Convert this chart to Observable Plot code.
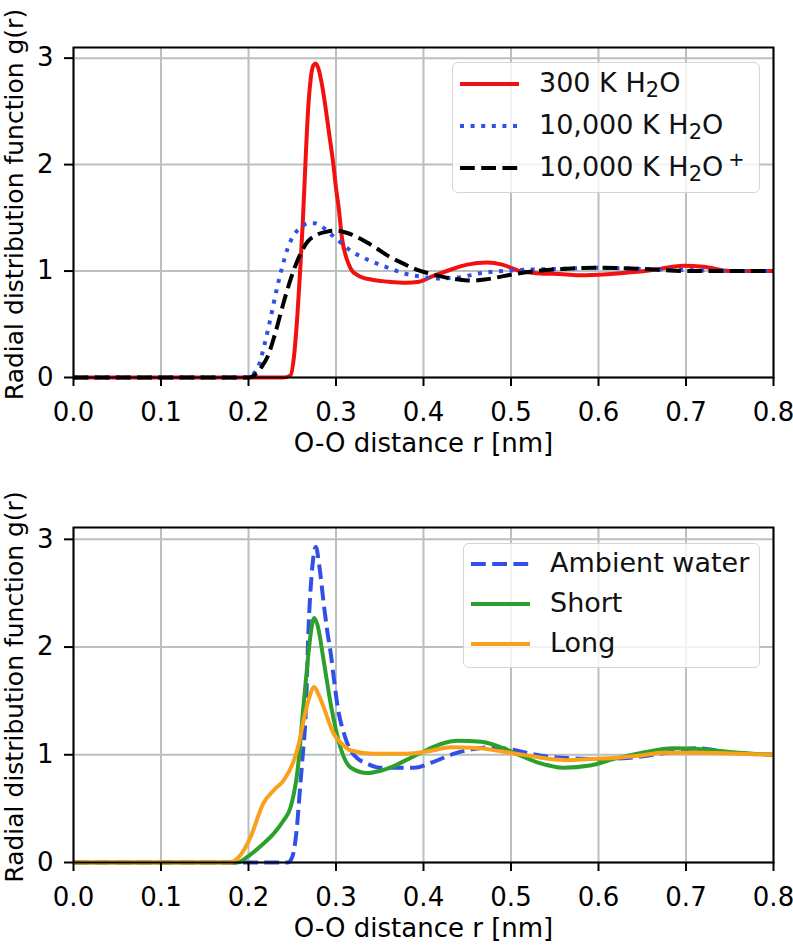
<!DOCTYPE html>
<html>
<head>
<meta charset="utf-8">
<script src="https://cdn.jsdelivr.net/npm/d3@7"></script>
<script src="https://cdn.jsdelivr.net/npm/@observablehq/plot@0.6"></script>
<style>
  html, body { margin: 0; padding: 0; background: white; overflow: hidden; }
  #wrap { position: relative; width: 793px; height: 946px; font-family: "DejaVu Sans", sans-serif; }
  #wrap svg { display: block; }
  .legend { position: absolute; background: rgba(255,255,255,0.8); border: 1.5px solid #d4d4d4; border-radius: 6px; box-sizing: border-box; }
  .row { position: absolute; left: 0; height: 0; }
  .row svg { position: absolute; left: 7px; top: -5px; overflow: visible; }
  .row span { position: absolute; left: 86px; top: 0; transform: translateY(-55%); font-size: 27px; white-space: nowrap; color: #111; }
  sub { font-size: 0.78em; vertical-align: -0.22em; line-height: 0; }
  sup { font-size: 0.72em; vertical-align: 0.5em; line-height: 0; margin-left: 5px; }
</style>
</head>
<body>
<div id="wrap"></div>
<script>
// ---------- data ----------
const xTicks = [0, 0.1, 0.2, 0.3, 0.4, 0.5, 0.6, 0.7, 0.8];
const yTicks = [0, 1, 2, 3];
const xLabel = "O-O distance r [nm]";
const yLabel = "Radial distribution function g(r)";

// Top panel
const r300 = [0, 0.24, 0.248, 0.252, 0.256, 0.259, 0.262, 0.265, 0.268, 0.271, 0.274, 0.277, 0.280, 0.284, 0.288, 0.292, 0.297, 0.300, 0.303, 0.307, 0.312, 0.317, 0.325, 0.34, 0.36, 0.38, 0.395, 0.41, 0.43, 0.45, 0.473, 0.49, 0.51, 0.53, 0.56, 0.58, 0.61, 0.64, 0.67, 0.697, 0.72, 0.75, 0.8];
const g300 = [0, 0, 0.02, 0.2, 0.6, 1.0, 1.45, 2.0, 2.5, 2.8, 2.93, 2.95, 2.9, 2.75, 2.54, 2.3, 2.0, 1.78, 1.6, 1.3, 1.12, 1.02, 0.96, 0.92, 0.9, 0.89, 0.9, 0.95, 1.01, 1.06, 1.08, 1.06, 1.0, 0.98, 0.97, 0.96, 0.97, 0.99, 1.02, 1.05, 1.04, 1.0, 1.0];

const r10k = [0, 0.195, 0.205, 0.212, 0.218, 0.225, 0.232, 0.238, 0.245, 0.252, 0.26, 0.268, 0.275, 0.285, 0.295, 0.305, 0.317, 0.33, 0.347, 0.36, 0.377, 0.395, 0.415, 0.44, 0.465, 0.49, 0.51, 0.55, 0.6, 0.65, 0.7, 0.75, 0.8];
const g10k = [0, 0, 0.03, 0.12, 0.3, 0.55, 0.82, 1.02, 1.22, 1.34, 1.41, 1.45, 1.45, 1.41, 1.34, 1.27, 1.19, 1.13, 1.07, 1.03, 0.98, 0.95, 0.93, 0.94, 0.98, 1.0, 1.01, 1.02, 1.03, 1.02, 1.01, 1.0, 1.0];

const r10kIon = [0, 0.2, 0.208, 0.215, 0.222, 0.23, 0.24, 0.248, 0.256, 0.267, 0.278, 0.29, 0.3, 0.312, 0.324, 0.335, 0.347, 0.36, 0.377, 0.39, 0.405, 0.42, 0.44, 0.455, 0.47, 0.49, 0.51, 0.53, 0.56, 0.6, 0.65, 0.7, 0.8];
const g10kIon = [0, 0, 0.03, 0.1, 0.2, 0.4, 0.7, 0.92, 1.1, 1.27, 1.34, 1.37, 1.38, 1.36, 1.32, 1.27, 1.21, 1.14, 1.07, 1.02, 0.98, 0.95, 0.92, 0.91, 0.92, 0.95, 0.98, 1.0, 1.02, 1.03, 1.02, 1.0, 1.0];

// Bottom panel
const rAmb = [0, 0.245, 0.25, 0.255, 0.259, 0.262, 0.265, 0.269, 0.273, 0.277, 0.281, 0.286, 0.29, 0.294, 0.298, 0.302, 0.309, 0.316, 0.324, 0.335, 0.35, 0.37, 0.389, 0.41, 0.435, 0.455, 0.477, 0.5, 0.522, 0.545, 0.564, 0.6, 0.633, 0.67, 0.713, 0.75, 0.8];
const gAmb = [0, 0, 0.05, 0.3, 0.7, 1.0, 1.32, 2.25, 2.75, 2.93, 2.75, 2.4, 2.15, 1.94, 1.68, 1.44, 1.2, 1.05, 0.97, 0.92, 0.88, 0.88, 0.88, 0.93, 1.01, 1.05, 1.07, 1.05, 1.01, 0.98, 0.97, 0.96, 0.97, 1.01, 1.06, 1.02, 1.0];

const rShort = [0, 0.187, 0.2, 0.215, 0.229, 0.24, 0.248, 0.256, 0.263, 0.268, 0.271, 0.275, 0.279, 0.286, 0.294, 0.305, 0.317, 0.336, 0.35, 0.362, 0.38, 0.4, 0.42, 0.439, 0.466, 0.485, 0.503, 0.53, 0.56, 0.59, 0.617, 0.65, 0.686, 0.72, 0.76, 0.8];
const gShort = [0, 0, 0.06, 0.16, 0.27, 0.39, 0.51, 0.85, 1.47, 1.9, 2.12, 2.27, 2.2, 1.87, 1.47, 1.07, 0.88, 0.83, 0.85, 0.88, 0.95, 1.03, 1.1, 1.13, 1.12, 1.08, 1.02, 0.93, 0.88, 0.9, 0.96, 1.02, 1.06, 1.05, 1.02, 1.0];

const rLong = [0, 0.178, 0.19, 0.202, 0.217, 0.23, 0.24, 0.252, 0.258, 0.263, 0.269, 0.275, 0.28, 0.286, 0.297, 0.307, 0.317, 0.343, 0.381, 0.41, 0.431, 0.465, 0.49, 0.522, 0.545, 0.564, 0.59, 0.617, 0.645, 0.674, 0.72, 0.76, 0.8];
const gLong = [0, 0, 0.06, 0.23, 0.55, 0.68, 0.76, 0.95, 1.12, 1.32, 1.52, 1.63, 1.56, 1.44, 1.2, 1.1, 1.04, 1.01, 1.01, 1.04, 1.07, 1.06, 1.03, 0.99, 0.96, 0.95, 0.96, 0.97, 0.99, 1.02, 1.02, 1.01, 1.0];

// ---------- helpers ----------
const pts = (rs, gs) => rs.map((r, i) => ({r, g: gs[i]}));
const gridColor = "#b9c0c0";
const fmtX = d3.format(".1f");

function panel({height, marginTop, marginBottom, yMax, lines}) {
  return Plot.plot({
    width: 793,
    height,
    marginTop,
    marginBottom,
    marginLeft: 73,
    marginRight: 20,
    style: {fontFamily: "DejaVu Sans", fontSize: "26px", color: "black", background: "white", overflow: "visible"},
    x: {domain: [0, 0.8]},
    y: {domain: [0, yMax]},
    marks: [
      Plot.gridX(xTicks, {stroke: gridColor, strokeOpacity: 1, strokeWidth: 2}),
      Plot.gridY(yTicks, {stroke: gridColor, strokeOpacity: 1, strokeWidth: 2}),
      ...lines.map(l => Plot.line(pts(l.r, l.g), {
        x: "r", y: "g", stroke: l.color, strokeWidth: 4,
        strokeDasharray: l.dash, strokeLinecap: "butt", strokeLinejoin: "round",
        curve: "monotone-x"
      })),
      Plot.frame({stroke: "black", strokeWidth: 2}),
      Plot.axisX(xTicks, {tickSize: 9, tickPadding: 16, tickFormat: fmtX, strokeWidth: 2, fontSize: 26, label: null}),
      Plot.axisY(yTicks, {tickSize: 9, tickPadding: 11, tickFormat: d3.format("d"), strokeWidth: 2, fontSize: 26, label: null}),
      Plot.text([xLabel], {text: d => d, frameAnchor: "bottom", lineAnchor: "middle", textAnchor: "middle", dy: 66, fontSize: 26}),
      Plot.text([yLabel], {text: d => d, frameAnchor: "left", lineAnchor: "middle", textAnchor: "middle", dx: -59, dy: -8, rotate: -90, fontSize: 25})
    ]
  });
}

const wrap = document.getElementById("wrap");

const topPanel = panel({
  height: 470, marginTop: 47, marginBottom: 93, yMax: 3.1,
  lines: [
    {r: r300, g: g300, color: "#f21010", dash: null},
    {r: r10k, g: g10k, color: "#3050e8", dash: "4,6.6"},
    {r: r10kIon, g: g10kIon, color: "#000000", dash: "14.8,6.4"}
  ]
});
const bottomPanel = panel({
  height: 476, marginTop: 57, marginBottom: 84, yMax: 3.11,
  lines: [
    {r: rAmb, g: gAmb, color: "#3050e8", dash: "14.8,6.4"},
    {r: rShort, g: gShort, color: "#2ca02c", dash: null},
    {r: rLong, g: gLong, color: "#f9a11b", dash: null}
  ]
});
wrap.appendChild(topPanel);
wrap.appendChild(bottomPanel);

// ---------- legends ----------
function legend(box, rowYs, entries) {
  const div = document.createElement("div");
  div.className = "legend";
  Object.assign(div.style, {left: box[0] + "px", top: box[1] + "px", width: box[2] + "px", height: box[3] + "px"});
  entries.forEach((e, i) => {
    const row = document.createElement("div");
    row.className = "row";
    row.style.top = rowYs[i] + "px";
    row.innerHTML = `<svg width="60" height="10"><line x1="0" x2="59" y1="5" y2="5" stroke="${e.color}" stroke-width="4" ${e.dash ? `stroke-dasharray="${e.dash}"` : ""}/></svg><span>${e.label}</span>`;
    div.appendChild(row);
  });
  wrap.appendChild(div);
}

legend([452, 62, 308, 131], [21, 63, 105], [
  {label: "300 K H<sub>2</sub>O", color: "#f21010", dash: null},
  {label: "10,000 K H<sub>2</sub>O", color: "#3050e8", dash: "4,6.6"},
  {label: "10,000 K H<sub>2</sub>O<sup>+</sup>", color: "#000000", dash: "14.8,6.4"}
]);
legend([463, 543, 297, 125], [20, 60, 100], [
  {label: "Ambient water", color: "#3050e8", dash: "14.8,6.4"},
  {label: "Short", color: "#2ca02c", dash: null},
  {label: "Long", color: "#f9a11b", dash: null}
]);
</script>
</body>
</html>
